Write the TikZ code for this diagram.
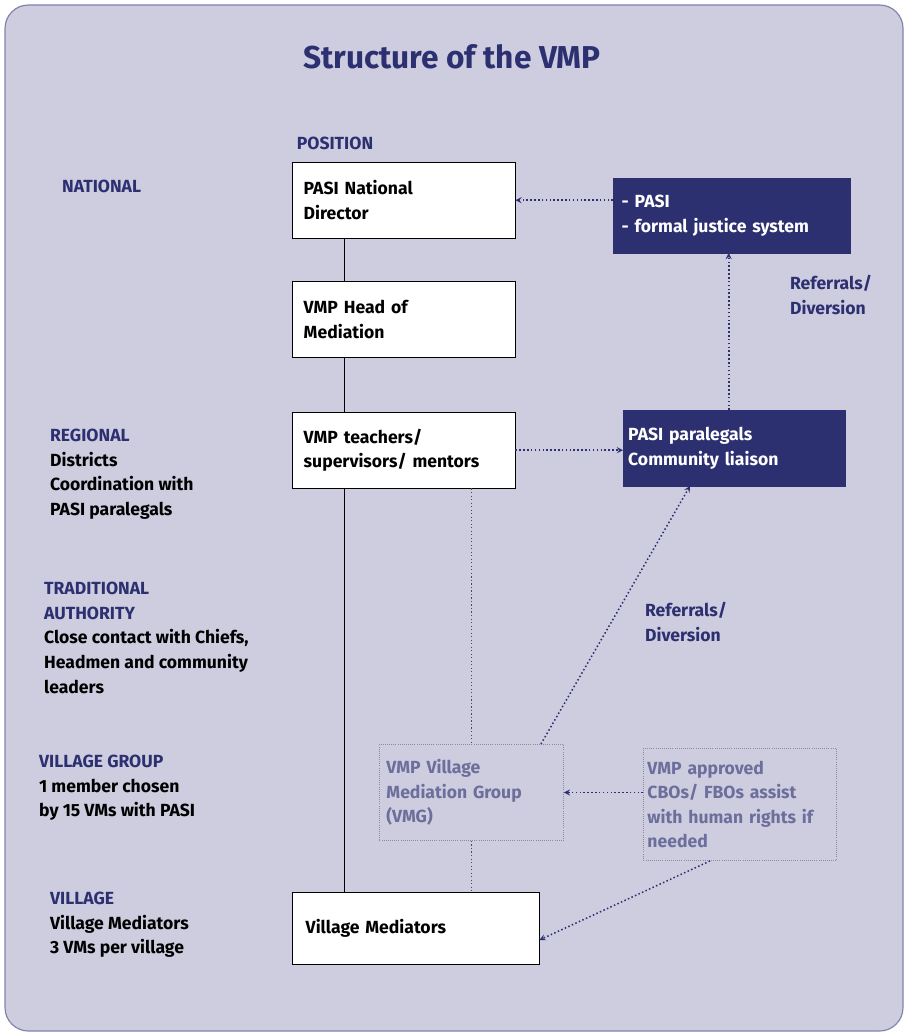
\documentclass[tikz,border=0pt]{standalone}
\usepackage{fontspec}
\setmainfont{Fira Sans}
\usetikzlibrary{positioning}
\definecolor{vmpblue}{RGB}{45,48,112}
\definecolor{vmpbg}{RGB}{206,205,224}
\definecolor{vmpgray}{RGB}{140,140,150}
\tikzstyle{whitebox} = [rectangle, draw=black, fill=white, anchor=north west, inner sep=0pt, align=left, font=\bfseries\fontsize{15}{21}\selectfont]
\tikzstyle{bluebox} = [rectangle, draw=vmpblue, fill=vmpblue, text=white, anchor=north west, inner sep=0pt, align=left, font=\bfseries\fontsize{15}{21}\selectfont]
\tikzstyle{dotbox} = [rectangle, draw=vmpgray, densely dotted, thick, text=vmpblue!70, anchor=north west, inner sep=0pt, align=left, font=\bfseries\fontsize{15}{21}\selectfont]
\tikzstyle{side} = [anchor=north west, align=left, font=\bfseries\fontsize{15}{21}\selectfont]
\tikzstyle{arrow} = [vmpblue, dotted, line width=1.3pt, ->, >=stealth]
\begin{document}
\begin{tikzpicture}[x=0.3mm,y=-0.3mm]
\useasboundingbox (0,0) rectangle (908,1036);
\draw [draw=vmpblue!60, fill=vmpbg, rounded corners=20pt, line width=1pt] (5,5) rectangle (903,1031);
\node (title) [text=vmpblue, font=\bfseries\fontsize{27}{32}\selectfont] at (452,57) {Structure of the VMP};
\node (pos) [text=vmpblue, font=\bfseries\fontsize{15}{21}\selectfont] at (335,143) {POSITION};

% left column
\node (national) [side, text=vmpblue] at (58,176) {NATIONAL};
\node (regional) [side] at (46,425) {\textcolor{vmpblue}{REGIONAL}\\Districts\\Coordination with\\PASI paralegals};
\node (trad) [side] at (40,578) {\textcolor{vmpblue}{TRADITIONAL}\\\textcolor{vmpblue}{AUTHORITY}\\Close contact with Chiefs,\\Headmen and community\\leaders};
\node (vgroup) [side] at (35,751) {\textcolor{vmpblue}{VILLAGE GROUP}\\1 member chosen\\by 15 VMs with PASI};
\node (village) [side] at (46,888) {\textcolor{vmpblue}{VILLAGE}\\Village Mediators\\3 VMs per village};

% main column
\draw (344,238) -- (344,892);
\node (director) [whitebox, minimum width=223*0.3mm, minimum height=76*0.3mm, text width=200*0.3mm] at (292,162) {PASI National\\Director};
\node (head) [whitebox, minimum width=223*0.3mm, minimum height=76*0.3mm, text width=200*0.3mm] at (292,281) {VMP Head of\\Mediation};
\node (teachers) [whitebox, minimum width=223*0.3mm, minimum height=76*0.3mm, text width=200*0.3mm] at (292,412) {VMP teachers/\\supervisors/ mentors};
\node (mediators) [whitebox, minimum width=247*0.3mm, minimum height=72*0.3mm, text width=220*0.3mm] at (292,892) {Village Mediators};
\node (vmg) [dotbox, minimum width=184*0.3mm, minimum height=96*0.3mm, text width=170*0.3mm] at (379,744) {VMP Village\\Mediation Group\\(VMG)};
\node (cbo) [dotbox, minimum width=193*0.3mm, minimum height=112*0.3mm, text width=185*0.3mm] at (643,748) {VMP approved\\CBOs/ FBOs assist\\with human rights if\\needed};

% right column
\node (formal) [bluebox, minimum width=237*0.3mm, minimum height=75*0.3mm, text width=220*0.3mm] at (613,178) {- PASI\\- formal justice system};
\node (paralegals) [bluebox, minimum width=222*0.3mm, minimum height=76*0.3mm, text width=212*0.3mm] at (623,410) {PASI paralegals\\Community liaison};

\node (ref1) [side, text=vmpblue] at (786,271) {Referrals/\\Diversion};
\node (ref2) [side, text=vmpblue] at (641,598) {Referrals/\\Diversion};

\draw [black!70, dotted, line width=1pt] (teachers.south-|vmg.north) -- (vmg.north);
\draw [black!70, dotted, line width=1pt] (vmg.south) -- (vmg.south|-mediators.north);
\draw [arrow] (formal.west|-director.center) -- (director.east|-director.center);
\draw [arrow] (teachers.east) -- (paralegals.west|-teachers.east);
\draw [arrow] (paralegals.north-|formal.center) ++(-3,0) -- ++(0,-157);
\draw [arrow] (vmg.north east) ++(-23,0) -- (690,486);
\draw [arrow] (cbo.west|-vmg.center) -- (vmg.east|-vmg.center);
\draw [arrow] (cbo.south) ++(-30,0) -- (mediators.east|-0,940);
\end{tikzpicture}
\end{document}
